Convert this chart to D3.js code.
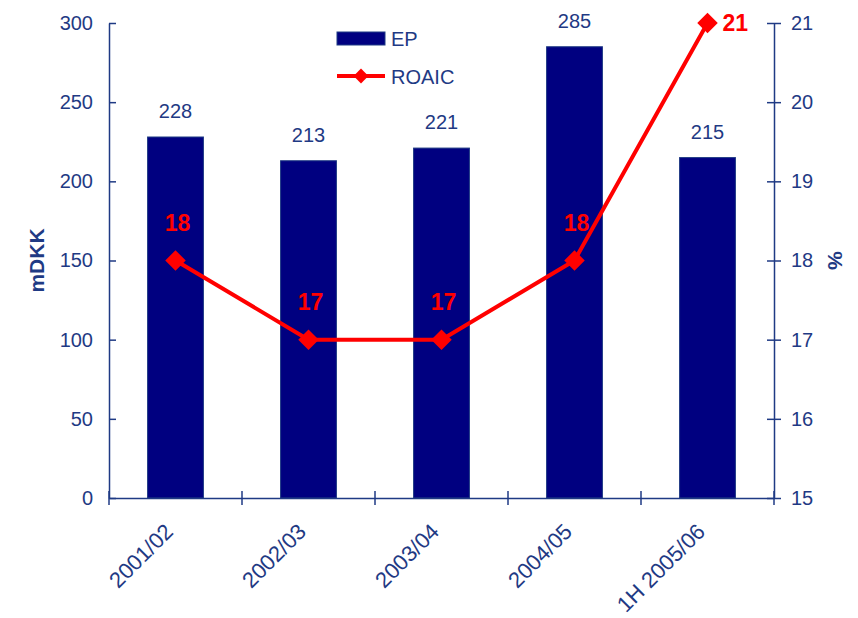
<!DOCTYPE html>
<html>
<head>
<meta charset="utf-8">
<script src="https://cdn.jsdelivr.net/npm/d3@7"></script>
<style>
  body { margin: 0; background: #fff; }
  svg text { font-family: "Liberation Sans", Arial, sans-serif; }
  .axis path, .axis line { stroke: #1F3A84; stroke-width: 1.5; }
  .axis text { fill: #1F3A84; font-size: 20px; }
</style>
</head>
<body>
<div id="chart"></div>
<script>
var categories = ["2001/02", "2002/03", "2003/04", "2004/05", "1H 2005/06"];
var epValues = [228, 213, 221, 285, 215];
var roaicValues = [18, 17, 17, 18, 21];
var leftTicks = [0, 50, 100, 150, 200, 250, 300];
var rightTicks = [15, 16, 17, 18, 19, 20, 21];

var width = 858, height = 618;
var margin = {top: 23, right: 84, bottom: 120, left: 109};
var innerW = width - margin.left - margin.right,
    innerH = 498 - margin.top;

var navy = "#1F3A84", barColor = "#000080", red = "#FF0000";

var svg = d3.select("#chart")
    .append("svg")
    .attr("width", width)
    .attr("height", height);

var g = svg.append("g")
    .attr("transform", "translate(" + margin.left + "," + margin.top + ")");

var x = d3.scaleBand().domain(categories).range([0, innerW]).paddingInner(0.58).paddingOuter(0.29),
    xb = d3.scaleBand().domain(categories).range([0, innerW]),
    y = d3.scaleLinear().domain([0, 300]).range([innerH, 0]),
    y2 = d3.scaleLinear().domain([15, 21]).range([innerH, 0]);

// bars
g.selectAll(".bar")
    .data(epValues)
    .enter().append("rect")
    .attr("class", "bar")
    .attr("x", function (d, i) { return x(categories[i]); })
    .attr("y", function (d) { return y(d); })
    .attr("width", x.bandwidth())
    .attr("height", function (d) { return innerH - y(d); })
    .attr("fill", barColor)
    .attr("stroke", "#1F3A84")
    .attr("stroke-width", 1);

g.selectAll(".barLabel")
    .data(epValues)
    .enter().append("text")
    .attr("x", function (d, i) { return x(categories[i]) + x.bandwidth() / 2; })
    .attr("y", function (d) { return y(d) - 19; })
    .attr("text-anchor", "middle")
    .attr("fill", navy)
    .style("font-size", "20px")
    .text(function (d) { return d; });

// axes
var xAxis = g.append("g")
    .attr("class", "axis")
    .attr("transform", "translate(0," + innerH + ")")
    .call(d3.axisBottom(xb).tickValues([]).tickSizeOuter(0));

xAxis.selectAll(".sep")
    .data(d3.range(categories.length + 1))
    .enter().append("line")
    .attr("class", "sep")
    .attr("x1", function (i) { return i * xb.step(); })
    .attr("x2", function (i) { return i * xb.step(); })
    .attr("y1", -7).attr("y2", 7);

g.selectAll(".xLabel")
    .data(categories)
    .enter().append("text")
    .attr("class", "xLabel")
    .attr("transform", function (d) {
        return "translate(" + (xb(d) + xb.bandwidth() / 2 - 1) + "," + (innerH + 35) + ") rotate(-45)";
    })
    .attr("text-anchor", "end")
    .attr("fill", navy)
    .style("font-size", "22px")
    .text(function (d) { return d; });

g.append("g")
    .attr("class", "axis")
    .call(d3.axisLeft(y).tickValues(leftTicks).tickSize(7).tickSizeOuter(0).tickPadding(9))
    .selectAll(".tick line").attr("x2", 7);

g.append("g")
    .attr("class", "axis")
    .attr("transform", "translate(" + innerW + ",0)")
    .call(d3.axisRight(y2).tickValues(rightTicks).tickFormat(d3.format("d")).tickSize(7).tickSizeOuter(0).tickPadding(10))
    .selectAll(".tick line").attr("x1", -7);

// axis titles
svg.append("text")
    .attr("transform", "translate(44," + (margin.top + y(150)) + ") rotate(-90)")
    .attr("text-anchor", "middle")
    .attr("fill", navy)
    .style("font-size", "21px")
    .style("font-weight", "bold")
    .text("mDKK");

svg.append("text")
    .attr("transform", "translate(828," + (margin.top + y2(18)) + ") rotate(90)")
    .attr("text-anchor", "middle")
    .attr("fill", navy)
    .style("font-size", "21px")
    .style("font-weight", "bold")
    .text("%");

// line
var line = d3.line()
    .x(function (d, i) { return xb(categories[i]) + xb.bandwidth() / 2; })
    .y(function (d) { return y2(d); });

g.append("path")
    .datum(roaicValues)
    .attr("fill", "none")
    .attr("stroke", red)
    .attr("stroke-width", 4)
    .attr("d", line);

g.selectAll(".pt")
    .data(roaicValues)
    .enter().append("path")
    .attr("class", "pt")
    .attr("transform", function (d, i) {
        return "translate(" + (xb(categories[i]) + xb.bandwidth() / 2) + "," + y2(d) + ") rotate(45)";
    })
    .attr("d", d3.symbol().type(d3.symbolSquare).size(210))
    .attr("fill", red);

g.selectAll(".ptLabel")
    .data(roaicValues)
    .enter().append("text")
    .attr("class", "ptLabel")
    .attr("x", function (d, i) {
        var cx = xb(categories[i]) + xb.bandwidth() / 2;
        return i === roaicValues.length - 1 ? cx + 15 : cx + 2;
    })
    .attr("y", function (d, i) {
        return i === roaicValues.length - 1 ? y2(d) + 8 : y2(d) - 30;
    })
    .attr("text-anchor", function (d, i) { return i === roaicValues.length - 1 ? "start" : "middle"; })
    .attr("fill", red)
    .style("font-size", "23px")
    .style("font-weight", "bold")
    .text(function (d) { return d; });

// legend
var legend = svg.append("g").attr("transform", "translate(337,0)");
legend.append("rect")
    .attr("x", 0).attr("y", 32).attr("width", 48).attr("height", 13)
    .attr("fill", barColor).attr("stroke", navy);
legend.append("text")
    .attr("x", 54).attr("y", 46)
    .attr("fill", navy).style("font-size", "20px").text("EP");
legend.append("line")
    .attr("x1", 0).attr("x2", 48).attr("y1", 76).attr("y2", 76)
    .attr("stroke", red).attr("stroke-width", 4);
legend.append("path")
    .attr("transform", "translate(24,76) rotate(45)")
    .attr("d", d3.symbol().type(d3.symbolSquare).size(110))
    .attr("fill", red);
legend.append("text")
    .attr("x", 54).attr("y", 84)
    .attr("fill", navy).style("font-size", "20px").text("ROAIC");
</script>
</body>
</html>
